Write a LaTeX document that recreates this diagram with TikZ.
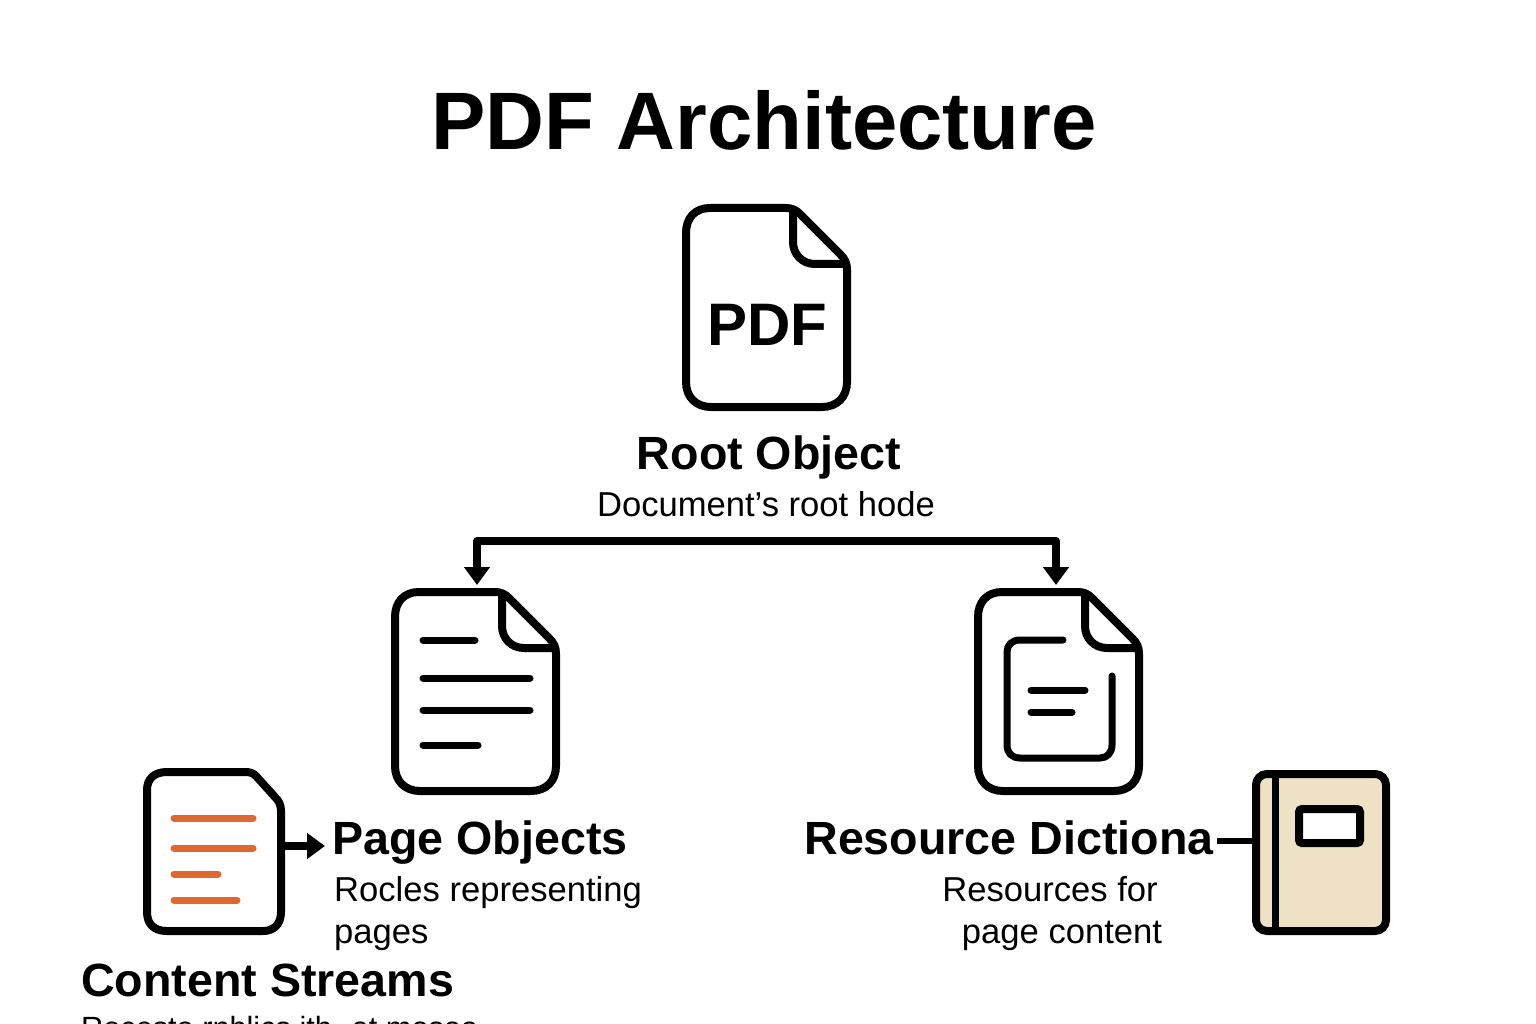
\documentclass[tikz,border=0pt]{standalone}
\usepackage{fontspec}
\setmainfont{Liberation Sans}
\usetikzlibrary{arrows.meta}
\definecolor{streamorange}{HTML}{E0672F}
\definecolor{bookcover}{HTML}{EFE1C4}
\tikzset{
  x=1pt,y=-1pt,
  icon/.style={draw=black,line width=8pt,line join=round},
  inner/.style={draw=black,line width=7pt,line cap=round,line join=round},
  stream/.style={draw=streamorange,line width=7pt,line cap=round},
  conn/.style={draw=black,line width=8pt,line join=round},
  tip/.style={-{Triangle[length=18pt,width=25pt]}},
  title/.style={font=\bfseries\fontsize{81.5}{81.5}\selectfont,inner sep=0pt,anchor=base},
  head/.style={font=\bfseries\fontsize{46.6}{47}\selectfont,inner sep=0pt,anchor=base},
  sub/.style={font=\fontsize{34.6}{35}\selectfont,inner sep=0pt,anchor=base},
}
\newcommand{\docicon}[2]{%
  \draw[icon,shift={(#1,#2)}] (28,4) -- (104,4)
    .. controls (110,4) and (114,6) .. (118,10) -- (158,50)
    .. controls (163,55) and (165,59) .. (165,66)
    -- (165,178) .. controls (165,193) and (155,203) .. (140,203)
    -- (29,203) .. controls (14,203) and (4,193) .. (4,178)
    -- (4,29) .. controls (4,14) and (13,4) .. (28,4) -- cycle;
  \draw[icon,shift={(#1,#2)}] (111,8) -- (111,38)
    .. controls (111,50) and (120,60) .. (133,60) -- (163,60);
}
\begin{document}
\begin{tikzpicture}
\useasboundingbox (0,0) rectangle (1536,1024);
\clip (0,0) rectangle (1536,1024);
\fill[white] (0,0) rectangle (1536,1024);
\node[title] (title) at (764,150) {PDF Architecture};
% root
\docicon{682}{204}
\node[font=\bfseries\fontsize{60}{60}\selectfont,inner sep=0pt,anchor=base] (pdf) at (767,345) {PDF};
\node[head] (root) at (769,469) {Root Object};
\node[sub] (rootsub) at (766,516) {Document’s root hode};
% pages
\docicon{391}{588}
\draw[inner] (423,640) -- (475,640);
\draw[inner] (423,678) -- (530,678);
\draw[inner] (423,710) -- (530,710);
\draw[inner] (423,745) -- (478,745);
\node[head] (page) at (480,854) {Page Objects};
\node[sub,anchor=base west] (pagesub1) at (334,901) {Rocles representing};
\node[sub,anchor=base west] (pagesub2) at (334,943) {pages};
% resources
\docicon{974}{588}
\draw[inner] (1063,640) -- (1020,640) .. controls (1012,640) and (1007,645) .. (1007,652)
  -- (1007,745) .. controls (1007,753) and (1012,758) .. (1020,758)
  -- (1100,758) .. controls (1107,758) and (1112,753) .. (1112,745) -- (1112,676);
\draw[inner] (1031,690) -- (1085,690);
\draw[inner] (1031,712) -- (1072,712);
\node[head] (res) at (1009,854) {Resource Dictiona};
\node[sub] (ressub1) at (1050,901) {Resources for};
\node[sub] (ressub2) at (1062,943) {page content};
% connectors root -> children
\coordinate (tree) at (768,541);
\coordinate (pagetop) at (477,585);
\coordinate (restop) at (1056,585);
\draw[conn,tip] (tree) -| (pagetop);
\draw[conn,tip] (tree) -| (restop);
% content streams
\draw[icon] (167,772) -- (245,772) .. controls (250,772) and (253,773) .. (256,776)
  -- (275,797) .. controls (279,801) and (281,805) .. (281,811)
  -- (281,912) .. controls (281,924) and (274,931) .. (263,931)
  -- (167,931) .. controls (154,931) and (147,924) .. (147,912)
  -- (147,790) .. controls (147,779) and (154,772) .. (167,772) -- cycle;
\coordinate (csright) at (281,846);
\coordinate (pageleft) at (325,846);
\draw[stream] (174,818) -- (253,818);
\draw[stream] (174,848) -- (253,848);
\draw[stream] (174,874) -- (218,874);
\draw[stream] (174,900) -- (237,900);
\draw[conn,tip] (csright) -- (pageleft);
\node[head,anchor=base west] (cs) at (81,996) {Content Streams};
\node[sub,anchor=base west,font=\fontsize{30.7}{31}\selectfont] (cssub) at (81,1038) {Rocesto rnblics ith. at mosoa};
% book
\draw[draw=black,fill=bookcover,line width=8pt,rounded corners=11pt] (1256,774) rectangle (1386,931);
\draw[draw=black,line width=7pt] (1275,774) -- (1275,931);
\draw[draw=black,fill=white,line width=8pt,rounded corners=3pt] (1299,809) rectangle (1360,843);
\coordinate (bookleft) at (1256,841);
\coordinate (resright) at (1217,841);
\draw[conn,line width=6pt] (resright) -- (bookleft);
\end{tikzpicture}
\end{document}
